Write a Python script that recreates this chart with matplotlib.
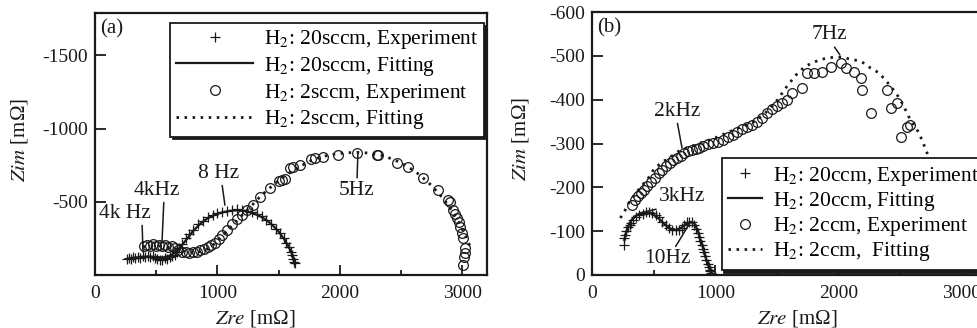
import matplotlib
matplotlib.use("Agg")
import matplotlib.pyplot as plt
from matplotlib.ticker import MultipleLocator

plt.rcParams['font.family'] = ['Liberation Serif', 'DejaVu Serif']
plt.rcParams['mathtext.fontset'] = 'stix'

# ---- panel (a): H2 20sccm / 2sccm ----
a20_exp_x = [265, 280, 295, 310, 330, 350, 370, 390, 410, 430, 450, 470, 490, 510, 530, 550, 570, 590,
             610, 630, 650, 670, 690, 710, 740, 770, 800, 840, 880, 920, 960, 1000, 1040, 1080, 1120,
             1160, 1200, 1240, 1280, 1320, 1360, 1400, 1440, 1480, 1510, 1540, 1560, 1580, 1600, 1610,
             1620, 1625, 1630]
a20_exp_y = [-112, -118, -108, -120, -115, -125, -118, -130, -122, -128, -120, -132, -115, -110, -100,
             -105, -118, -112, -125, -130, -140, -160, -185, -215, -250, -280, -310, -345, -372, -395,
             -412, -425, -432, -440, -445, -448, -445, -440, -432, -418, -400, -378, -348, -315, -285,
             -250, -222, -192, -160, -135, -108, -88, -80]
a20_fit_x = [270, 320, 380, 440, 500, 560, 620, 660, 700, 750, 800, 860, 920, 980, 1040, 1100, 1160,
             1220, 1280, 1340, 1400, 1450, 1500, 1540, 1570, 1600, 1620, 1632]
a20_fit_y = [-112, -118, -124, -126, -122, -120, -135, -160, -195, -245, -300, -350, -388, -412, -428,
             -438, -442, -438, -425, -405, -375, -340, -296, -250, -210, -160, -118, -85]
a2_exp_x = [400, 425, 450, 475, 500, 525, 550, 575, 600, 625, 650, 680, 710, 740, 770, 800, 830, 860,
            890, 920, 950, 980, 1010, 1040, 1080, 1120, 1160, 1200, 1240, 1290, 1347, 1429, 1500, 1527,
            1550, 1592, 1620, 1673, 1760, 1796, 1861, 1984, 2139, 2302, 2310, 2465, 2555, 2678, 2800,
            2880, 2898, 2922, 2940, 2955, 2970, 2980, 2995, 3004, 3020, 3020, 3015, 3004]
a2_exp_y = [-195, -205, -198, -210, -200, -205, -196, -202, -190, -198, -185, -172, -160, -158, -152,
            -156, -160, -168, -178, -190, -205, -222, -245, -270, -310, -345, -380, -410, -445, -477,
            -532, -593, -640, -648, -655, -730, -735, -750, -790, -798, -805, -818, -832, -818, -822,
            -764, -737, -662, -580, -510, -498, -443, -420, -389, -360, -327, -290, -252, -184, -150,
            -123, -68]
a2_fit_x = [390, 440, 500, 560, 620, 680, 740, 800, 860, 920, 980, 1040, 1100, 1160, 1220, 1280, 1340,
            1400, 1460, 1520, 1600, 1680, 1760, 1850, 1950, 2050, 2150, 2250, 2350, 2450, 2550, 2650,
            2750, 2850, 2920, 2980, 3030, 3060, 3075]
a2_fit_y = [-192, -198, -200, -195, -185, -172, -160, -155, -160, -178, -215, -268, -320, -372, -425,
            -475, -528, -575, -618, -658, -705, -745, -780, -808, -825, -835, -838, -832, -815, -785,
            -742, -685, -610, -515, -430, -345, -260, -200, -170]

# ---- panel (b): H2 20ccm / 2ccm ----
b20_exp_x = [258, 262, 268, 276, 290, 305, 316, 335, 355, 381, 410, 440, 462, 490, 520, 543, 570, 600,
             624, 650, 680, 706, 730, 750, 771, 790, 810, 827, 845, 860, 868, 880, 890, 900, 908, 918,
             928, 938, 949, 955, 960, 965, 970]
b20_exp_y = [-68, -85, -91, -100, -110, -115, -118, -125, -132, -137, -140, -143, -144, -141, -138,
             -132, -122, -115, -107, -103, -103, -103, -108, -115, -121, -122, -121, -114, -105, -95,
             -87, -78, -68, -60, -52, -43, -35, -25, -18, -12, -8, -5, -3]
b20_fit_x = [262, 290, 320, 360, 400, 440, 480, 520, 560, 600, 640, 680, 720, 760, 800, 830, 860, 890,
             920, 945, 965, 975]
b20_fit_y = [-80, -108, -125, -136, -141, -142, -140, -134, -124, -113, -105, -103, -107, -116, -121,
             -118, -100, -72, -42, -20, -5, 0]
b2_exp_x = [324, 345, 370, 395, 422, 450, 480, 510, 540, 570, 600, 630, 660, 690, 720, 750, 780, 810,
            840, 870, 900, 940, 980, 1020, 1060, 1100, 1140, 1180, 1220, 1260, 1300, 1340, 1380, 1420,
            1460, 1500, 1540, 1580, 1622, 1703, 1744, 1800, 1865, 1938, 2019, 2060, 2125, 2182, 2190,
            2263, 2393, 2425, 2474, 2506, 2555, 2580]
b2_exp_y = [-160, -170, -180, -188, -195, -203, -212, -222, -232, -240, -248, -255, -262, -267, -272,
            -278, -282, -285, -288, -290, -294, -298, -301, -303, -308, -314, -320, -326, -333, -338,
            -342, -348, -358, -370, -378, -386, -392, -400, -415, -427, -461, -461, -463, -475, -484,
            -472, -463, -449, -422, -370, -422, -381, -392, -315, -338, -342]
b2_fit_x = [230, 260, 300, 350, 400, 450, 500, 560, 620, 700, 800, 900, 1000, 1100, 1200, 1300, 1400,
            1500, 1580, 1650, 1720, 1784, 1860, 1930, 2003, 2070, 2140, 2190, 2260, 2328, 2400, 2466,
            2520, 2571, 2652, 2709, 2760, 2810, 2860, 2900]
b2_fit_y = [-130, -143, -165, -185, -202, -218, -240, -256, -266, -282, -293, -303, -313, -325, -337,
            -347, -368, -398, -430, -455, -474, -484, -492, -496, -497, -494, -490, -486, -472, -461,
            -438, -415, -390, -360, -324, -285, -245, -200, -150, -110]

fig = plt.figure(figsize=(9.78, 3.28), dpi=100)
ax1 = fig.add_axes([0.0971, 0.1616, 0.4008, 0.7988])
ax2 = fig.add_axes([0.6053, 0.1616, 0.3978, 0.8018])

ink = '#1a1a1a'
fs = 14

def style(ax, xmax, ytop, yticks):
    ax.set_xlim(0, xmax)
    ax.set_ylim(0, ytop)
    ax.xaxis.set_major_locator(MultipleLocator(1000))
    ax.xaxis.set_minor_locator(MultipleLocator(500))
    ax.set_yticks(yticks)
    ax.set_yticklabels([str(v) for v in yticks])
    ax.tick_params(which='both', direction='in', labelsize=fs, width=1.3, colors=ink)
    ax.tick_params(axis='x', which='major', length=7, pad=7)
    ax.tick_params(axis='x', which='minor', length=3.5)
    ax.tick_params(axis='y', which='major', length=8, pad=5)
    for s in ax.spines.values():
        s.set_linewidth(1.6)
        s.set_color(ink)
    ax.set_xlabel(r'$Zre$ [mΩ]', fontsize=15, color=ink)
    ax.set_ylabel(r'$Zim$ [mΩ]', fontsize=15, color=ink)

style(ax1, 3200, -1790, [-1500, -1000, -500])
style(ax2, 3155, -600, [-600, -500, -400, -300, -200, -100, 0])

mk = dict(ms=7, mew=0.9, color=ink, mfc='none')

# panel (a)
ax1.plot(a20_exp_x, a20_exp_y, '+', label=r'H$_2$: 20sccm, Experiment', **mk)
ax1.plot(a20_fit_x, a20_fit_y, '-', color=ink, lw=1.6, label=r'H$_2$: 20sccm, Fitting')
ax1.plot(a2_exp_x, a2_exp_y, 'o', label=r'H$_2$: 2sccm, Experiment', **mk)
ax1.plot(a2_fit_x, a2_fit_y, color=ink, lw=2.0, ls=(0, (0.9, 2.0)), label=r'H$_2$: 2sccm, Fitting')

# panel (b)
ax2.plot(b20_exp_x, b20_exp_y, '+', label=r'H$_2$: 20ccm, Experiment', **mk)
ax2.plot(b20_fit_x, b20_fit_y, '-', color=ink, lw=1.6, label=r'H$_2$: 20ccm, Fitting')
ax2.plot(b2_exp_x, b2_exp_y, 'o', label=r'H$_2$: 2ccm, Experiment', **mk)
ax2.plot(b2_fit_x, b2_fit_y, color=ink, lw=2.0, ls=(0, (0.9, 2.0)), label=r'H$_2$: 2ccm,  Fitting')

shadow = {'color': ink, 'alpha': 1}
leg1 = ax1.legend(loc='upper right', bbox_to_anchor=(0.992, 0.962), fontsize=15.5, frameon=True,
                  fancybox=False, edgecolor=ink, framealpha=1, shadow=shadow, handlelength=3.6,
                  handletextpad=0.5, labelspacing=0.17, borderpad=0.25, borderaxespad=0)
leg1.get_frame().set_linewidth(1.3)
leg2 = ax2.legend(loc='lower left', bbox_to_anchor=(0.333, 0.02), fontsize=15.5, frameon=True,
                  fancybox=False, edgecolor=ink, framealpha=1, shadow=shadow, handlelength=1.6,
                  handletextpad=0.5, labelspacing=0.1, borderpad=0.3, borderaxespad=0)
leg2.get_frame().set_linewidth(1.3)

line = dict(arrowstyle='-', lw=1.1, color=ink, shrinkA=0, shrinkB=0)
ann = dict(fontsize=15.5, color=ink, ha='center', va='center')

# annotations (a)
ax1.annotate('4k Hz', xy=(392, -160), xytext=(245, -423), arrowprops=dict(relpos=(0.83, 0), **line), **ann)
ax1.annotate('4kHz', xy=(547, -218), xytext=(506, -580), arrowprops=dict(relpos=(0.65, 0), **line), **ann)
ax1.annotate('8 Hz', xy=(1061, -477), xytext=(1012, -696), arrowprops=dict(relpos=(0.57, 0), **line), **ann)
ax1.annotate('5Hz', xy=(2147, -839), xytext=(2139, -580), arrowprops=dict(relpos=(0.5, 1), **line), **ann)

# annotations (b)
ax2.annotate('7Hz', xy=(2011, -502), xytext=(1922, -548), arrowprops=dict(relpos=(0.6, 0), **line), **ann)
ax2.annotate('2kHz', xy=(730, -290), xytext=(689, -374), arrowprops=dict(relpos=(0.5, 0), **line), **ann)
ax2.annotate('3kHz', xy=(381, -141), xytext=(730, -178), arrowprops=dict(relpos=(0.2, 0), **line), **ann)
ax2.annotate('10Hz', xy=(795, -119), xytext=(608, -37), arrowprops=dict(relpos=(0.65, 1), **line), **ann)

ax1.text(0.013, 0.975, '(a)', transform=ax1.transAxes, ha='left', va='top', fontsize=15, color=ink)
ax2.text(0.013, 0.975, '(b)', transform=ax2.transAxes, ha='left', va='top', fontsize=15, color=ink)

ax1.xaxis.set_label_coords(0.41, -0.125)
ax2.xaxis.set_label_coords(0.527, -0.125)
ax1.yaxis.set_label_coords(-0.165, 0.515)
ax2.yaxis.set_label_coords(-0.158, 0.517)

fig.savefig('out.png', dpi=100)
